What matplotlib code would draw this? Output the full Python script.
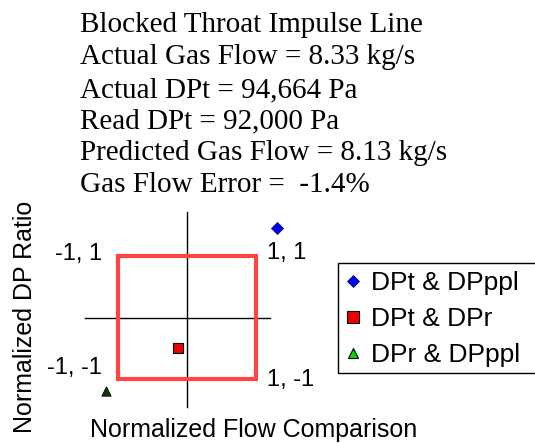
import matplotlib
matplotlib.use("Agg")
import matplotlib.pyplot as plt
from matplotlib.lines import Line2D
from matplotlib.patches import Rectangle

# ---- data ----
info_lines = [
    "Blocked Throat Impulse Line",
    "Actual Gas Flow = 8.33 kg/s",
    "Actual DPt = 94,664 Pa",
    "Read DPt = 92,000 Pa",
    "Predicted Gas Flow = 8.13 kg/s",
    "Gas Flow Error =  -1.4%",
]
series_labels = ["DPt & DPppl", "DPt & DPr", "DPr & DPppl"]
series_x = [1.30, -0.13, -1.17]
series_y = [1.46, -0.50, -1.19]
box_x = [-1, 1, 1, -1, -1]
box_y = [1, 1, -1, -1, 1]
corner_labels = ["-1, 1", "1, 1", "-1, -1", "1, -1"]
corner_x = [-1, 1, -1, 1]
corner_y = [1, 1, -1, -1]

W, H = 535, 443
fig = plt.figure(figsize=(W / 100, H / 100), dpi=100)
ax = fig.add_axes([0, 0, 1, 1])
# pixel mapping: x centre 187 px, 69 px/unit; y centre 317.5 px, 61.5 px/unit
cx, sx = 187.0, 69.0
cy, sy = 317.5, 61.5
ax.set_xlim((0 - cx) / sx, (W - cx) / sx)
ax.set_ylim((cy - H) / sy, cy / sy)
ax.axis("off")

sans = "Liberation Sans"
serif = "Liberation Serif"

# axes cross lines
ax.plot([0, 0], [(cy - 407) / sy, (cy - 212) / sy], color="black", lw=1.0)
ax.plot([(85 - cx) / sx, (270 - cx) / sx], [0, 0], color="black", lw=1.0)

# red square
ax.plot(box_x, box_y, color="#ff4444", lw=3.0, solid_joinstyle="miter")

# corner labels (offsets in pixels)
offs = {0: (-16, 2, "right", "center"), 1: (11, 3, "left", "center"),
        2: (-16, 11, "right", "center"), 3: (11, -1, "left", "center")}
for i, (lab, x, y) in enumerate(zip(corner_labels, corner_x, corner_y)):
    dx, dy, ha, va = offs[i]
    ax.annotate(lab, (x, y), xytext=(dx * 0.72, dy * 0.72), textcoords="offset points",
                ha=ha, va=va, fontsize=17, family=sans)

# data points
ax.scatter([series_x[0]], [series_y[0]], marker="D", s=38, color="#0000ee",
           edgecolors="#000066", linewidths=0.5, zorder=5)
ax.scatter([series_x[1]], [series_y[1]], marker="s", s=55, color="#ee0000",
           edgecolors="black", linewidths=0.8, zorder=5)
ax.scatter([series_x[2]], [series_y[2]], marker="^", s=45, color="#0a3a0a",
           edgecolors="black", linewidths=0.6, zorder=5)

handles = [
    Line2D([], [], ls="none", marker="D", markersize=6, color="#0000ee",
           markeredgecolor="#000066", markeredgewidth=0.5),
    Line2D([], [], ls="none", marker="s", markersize=8, color="#ee0000",
           markeredgecolor="black", markeredgewidth=0.8),
    Line2D([], [], ls="none", marker="^", markersize=7, color="#00dd00",
           markeredgecolor="black", markeredgewidth=0.8),
]
leg = fig.legend(handles, series_labels, loc="upper left",
                 bbox_to_anchor=(337 / W, 1 - 266 / H),
                 prop={"family": sans, "size": 19},
                 frameon=False,
                 handlelength=0.8, handletextpad=0.3, labelspacing=0.45,
                 borderpad=0.2, borderaxespad=0.0)
fig.patches.append(Rectangle((338 / W, 1 - 373 / H), 210 / W, 110 / H,
                             transform=fig.transFigure, fill=False,
                             edgecolor="black", lw=1.0, clip_on=False))

# info text block
baselines = [32, 64, 97, 128, 160, 192]
for line, b in zip(info_lines, baselines):
    fig.text(80 / W, 1 - b / H, line, family=serif, fontsize=21,
             ha="left", va="baseline")

# axis labels
fig.text(254 / W, 1 - 430 / H, "Normalized Flow Comparison", family=sans,
         fontsize=18, ha="center", va="center")
fig.text(25 / W, 1 - 317 / H, "Normalized DP Ratio", family=sans,
         fontsize=18, ha="center", va="center", rotation=90)

fig.savefig("out.png", dpi=100)
